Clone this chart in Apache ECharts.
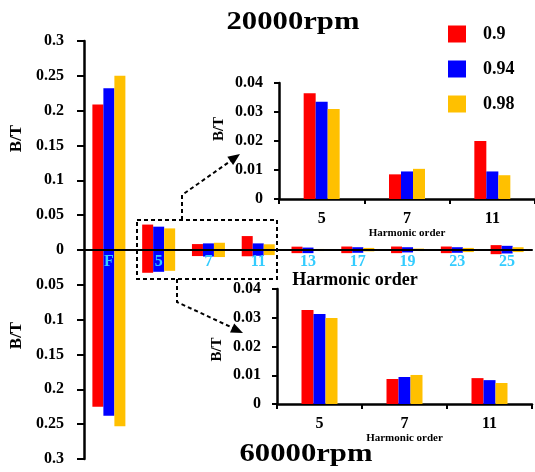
<!DOCTYPE html>
<html>
<head>
<meta charset="utf-8">
<script src="https://cdn.jsdelivr.net/npm/echarts@6/dist/echarts.min.js"></script>
<style>
  html, body { margin: 0; padding: 0; background: #fff; }
  #chart { width: 535px; height: 472px; }
</style>
</head>
<body>
<div id="chart"></div>
<script>
// harmonic orders on the main axis, first three harmonics shown zoomed in the insets
const orders = ['F', '5', '7', '11', '13', '17', '19', '23', '25'];
const insetOrders = ['5', '7', '11'];
const ratios = ['0.9', '0.94', '0.98'];
const colors = ['#ff0000', '#0000ff', '#ffc000'];

// B/T amplitude at 20000rpm (upper half)
const b20k_090 = [0.209, 0.0365, 0.0085, 0.020, 0.0048, 0.005, 0.005, 0.005, 0.007];
const b20k_094 = [0.232, 0.0335, 0.0095, 0.0095, 0.0035, 0.004, 0.004, 0.004, 0.006];
const b20k_098 = [0.250, 0.031, 0.0104, 0.0082, 0.0015, 0.003, 0.002, 0.003, 0.004];
// B/T amplitude at 60000rpm (lower half, drawn downwards)
const b60k_090 = [0.225, 0.0327, 0.0087, 0.0090, 0.0045, 0.0045, 0.0045, 0.0045, 0.006];
const b60k_094 = [0.238, 0.0313, 0.0094, 0.0083, 0.0045, 0.004, 0.0035, 0.004, 0.005];
const b60k_098 = [0.253, 0.0299, 0.0101, 0.0073, 0.0015, 0.002, 0.0015, 0.003, 0.003];

const mainTicks = [0, 0.05, 0.1, 0.15, 0.2, 0.25, 0.3];
const insetTicks = [0, 0.01, 0.02, 0.03, 0.04];

const up = [b20k_090, b20k_094, b20k_098];
const down = [b60k_090, b60k_094, b60k_098];

const serif = '"Liberation Serif", "Times New Roman", serif';
const black = '#000';

function fmt(v) {
    return String(+Math.abs(v).toFixed(2));
}

function mainY(inverse) {
    return {
        type: 'value',
        min: mainTicks[0],
        max: mainTicks[mainTicks.length - 1],
        interval: 0.05,
        inverse: inverse,
        name: 'B/T',
        nameLocation: 'middle',
        nameRotate: 90,
        nameGap: 54,
        nameTextStyle: {
            fontFamily: serif, fontWeight: 'bold', fontSize: 17, color: black,
            padding: inverse ? [0, 0, 0, 38] : [0, 0, 0, 14]
        },
        axisLine: { show: true, lineStyle: { color: black, width: 2.5 } },
        axisTick: { show: true, length: 7, lineStyle: { color: black, width: 2 } },
        axisLabel: {
            fontFamily: serif, fontWeight: 'bold', fontSize: 16, color: black, margin: 20,
            showMinLabel: !inverse,
            formatter: fmt
        },
        splitLine: { show: false }
    };
}

function insetY(pad) {
    return {
        type: 'value',
        min: insetTicks[0],
        max: insetTicks[insetTicks.length - 1],
        interval: 0.01,
        name: 'B/T',
        nameLocation: 'middle',
        nameRotate: 90,
        nameGap: 52,
        nameTextStyle: { fontFamily: serif, fontWeight: 'bold', fontSize: 15, color: black, padding: pad },
        axisLine: { show: true, lineStyle: { color: black, width: 2.5 } },
        axisTick: { show: true, length: 5, lineStyle: { color: black, width: 2 } },
        axisLabel: {
            fontFamily: serif, fontWeight: 'bold', fontSize: 16, color: black, margin: 16,
            formatter: function (v) { return String(+v.toFixed(2)); }
        },
        splitLine: { show: false }
    };
}

function insetX() {
    return {
        type: 'category',
        data: insetOrders,
        name: 'Harmonic order',
        nameLocation: 'middle',
        nameGap: 24,
        nameTextStyle: { fontFamily: serif, fontWeight: 'bold', fontSize: 11, color: black },
        axisLine: { lineStyle: { color: black, width: 2.5 } },
        axisTick: { show: true, length: 5, lineStyle: { color: black, width: 2 } },
        axisLabel: { fontFamily: serif, fontWeight: 'bold', fontSize: 16, color: black, margin: 12 }
    };
}

const series = [];
for (let i = 0; i < 3; i++) {
    series.push({
        name: ratios[i], type: 'bar', xAxisIndex: 0, yAxisIndex: 0,
        data: up[i], barWidth: 11, barGap: '0%', itemStyle: { color: colors[i] }
    });
    series.push({
        name: ratios[i], type: 'bar', xAxisIndex: 1, yAxisIndex: 1,
        data: down[i], barWidth: 11, barGap: '0%', itemStyle: { color: colors[i] }
    });
    series.push({
        name: ratios[i], type: 'bar', xAxisIndex: 2, yAxisIndex: 2,
        data: up[i].slice(1, 4), barWidth: 12, barGap: '0%', itemStyle: { color: colors[i] }
    });
    series.push({
        name: ratios[i], type: 'bar', xAxisIndex: 3, yAxisIndex: 3,
        data: down[i].slice(1, 4), barWidth: 12, barGap: '0%', itemStyle: { color: colors[i] }
    });
}

const dash = { fill: null, stroke: black, lineWidth: 2, lineDash: [4, 3] };
const titleFont = 'bold 26px ' + serif;

var chart = echarts.init(document.getElementById('chart'));
chart.setOption({
    animation: false,
    backgroundColor: '#fff',
    legend: {
        data: ratios,
        orient: 'vertical',
        left: 443,
        top: 20,
        itemWidth: 18,
        itemHeight: 17,
        itemGap: 17,
        icon: 'rect',
        textStyle: { fontFamily: serif, fontWeight: 'bold', fontSize: 18, color: black, padding: [0, 0, 0, 12] }
    },
    grid: [
        { left: 84, right: 3, top: 41, height: 209 },
        { left: 84, right: 3, top: 250, height: 209 },
        { left: 279, right: 0, top: 83, height: 116 },
        { left: 277, right: 3, top: 289, height: 115 }
    ],
    xAxis: [{
        gridIndex: 0,
        type: 'category',
        data: orders,
        z: 10,
        name: 'Harmonic order',
        nameLocation: 'middle',
        nameGap: 19,
        nameTextStyle: { fontFamily: serif, fontWeight: 'bold', fontSize: 18, color: black, padding: [0, 0, 0, 94] },
        axisLine: { lineStyle: { color: black, width: 2 } },
        axisTick: { show: false },
        axisLabel: { fontFamily: serif, fontWeight: 'bold', fontSize: 16, color: '#33ccff', margin: 4 }
    }, {
        gridIndex: 1,
        type: 'category',
        data: orders,
        show: false
    },
    Object.assign({ gridIndex: 2 }, insetX()),
    Object.assign({ gridIndex: 3 }, insetX())],
    yAxis: [
        Object.assign({ gridIndex: 0 }, mainY(false)),
        Object.assign({ gridIndex: 1 }, mainY(true)),
        Object.assign({ gridIndex: 2 }, insetY([0, 0, 0, 24])),
        Object.assign({ gridIndex: 3 }, insetY([0, 6, 0, 0]))
    ],
    series: series,
    graphic: [
        {
            type: 'text', x: 293, y: 22, scaleX: 1.18,
            style: { text: '20000rpm', font: titleFont, fill: black, align: 'center', verticalAlign: 'middle' }
        },
        {
            type: 'text', x: 306, y: 454, scaleX: 1.18,
            style: { text: '60000rpm', font: titleFont, fill: black, align: 'center', verticalAlign: 'middle' }
        },
        { type: 'rect', z: 20, shape: { x: 137, y: 220, width: 140, height: 59 }, style: dash },
        { type: 'polyline', z: 20, shape: { points: [[182, 220], [182, 195], [232, 160]] }, style: dash },
        { type: 'polygon', z: 20, shape: { points: [[240, 154], [233.1, 165], [227.3, 156.8]] }, style: { fill: black } },
        { type: 'polyline', z: 20, shape: { points: [[177, 279], [177, 302], [233, 328]] }, style: dash },
        { type: 'polygon', z: 20, shape: { points: [[243, 333], [230, 332.4], [234.2, 323.4]] }, style: { fill: black } }
    ]
});
</script>
</body>
</html>
